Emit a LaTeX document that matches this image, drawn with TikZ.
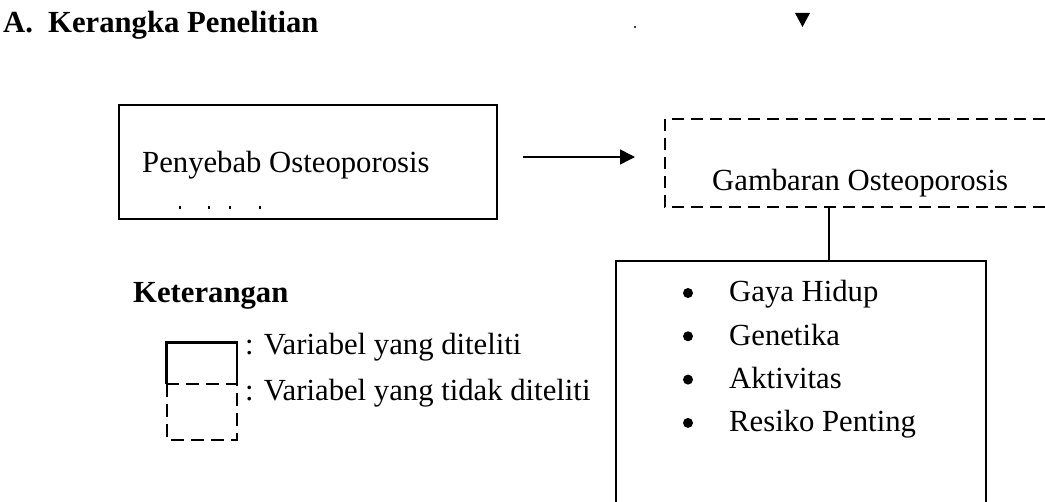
\documentclass[tikz,border=0pt]{standalone}
\usepackage{fontspec}
\setmainfont{Liberation Serif}
\usetikzlibrary{arrows.meta}
\begin{document}
\begin{tikzpicture}[x=1pt,y=-1pt,
  txt/.style={inner sep=0pt,anchor=base west,font=\fontsize{30.7}{36}\selectfont},
  btxt/.style={txt,font=\fontsize{30.7}{36}\selectfont\bfseries},
  boxline/.style={line width=1.6pt},
  dashline/.style={line width=1.6pt,dash pattern=on 12pt off 7pt},
  bul/.style={circle,fill=black,inner sep=0pt,minimum size=10pt}]
\useasboundingbox (0,0) rectangle (1045,502);
% title
\node[btxt] (title) at (3,33) {\makebox[45pt][l]{A.}Kerangka Penelitian};
% stray marks at top
\fill (635,27) circle (1.2);
\fill (795,13) -- (810,13) -- (802.5,27) -- cycle;
% left box
\coordinate (lbNW) at (119,105);
\coordinate (lbSE) at (497,219);
\draw[boxline] (lbNW) rectangle (lbSE);
\node[txt] (penyebab) at (142,173) {Penyebab Osteoporosis};
\foreach \mx in {180,209,230,260}{\fill (\mx-1.2,206.5) rectangle (\mx+1.2,209.5);}
% arrow
\coordinate (arrA) at (523,157);
\coordinate (arrB) at (635,157);
\draw[line width=1.6pt,-{Triangle[length=15pt,width=15pt]}] (arrA) -- (arrB);
% dashed box (open on the right)
\coordinate (dbNE) at (1045,119);
\coordinate (dbNW) at (665,119);
\coordinate (dbSW) at (665,207);
\coordinate (dbSE) at (1045,207);
\draw[dashline] (dbNE) -- (dbNW) -- (dbSW) -- (dbSE);
\node[txt] (gambaran) at (712,191) {Gambaran Osteoporosis};
% connector
\coordinate (conTop) at (829,207);
\coordinate (conBot) at (829,261);
\draw[line width=1.3pt] (conTop) -- (conBot);
% bottom box (open at bottom)
\coordinate (bbSW) at (616,502);
\coordinate (bbNW) at (616,261);
\coordinate (bbNE) at (986,261);
\coordinate (bbSE) at (986,502);
\draw[boxline] (bbSW) -- (bbNW) -- (bbNE) -- (bbSE);
\node[bul] (b1) at (688,293) {};
\node[bul] (b2) at (688,336.3) {};
\node[bul] (b3) at (688,379.6) {};
\node[bul] (b4) at (688,422.9) {};
\node[txt] (t1) at (729,302) {Gaya Hidup};
\node[txt] (t2) at (729,345.3) {Genetika};
\node[txt] (t3) at (729,388.6) {Aktivitas};
\node[txt] (t4) at (729,431.9) {Resiko Penting};
% legend
\node[btxt] (ket) at (133,303) {Keterangan};
\draw[line width=2.6pt] (166.7,384) -- (166.7,342.7) -- (237,342.7) -- (237,384);
\draw[line width=1.6pt,dash pattern=on 13pt off 7pt] (166.7,384) rectangle (237,440);
\node[txt] (l1) at (245,355) {: Variabel yang diteliti};
\node[txt] (l2) at (245,401) {: Variabel yang tidak diteliti};
\end{tikzpicture}
\end{document}
